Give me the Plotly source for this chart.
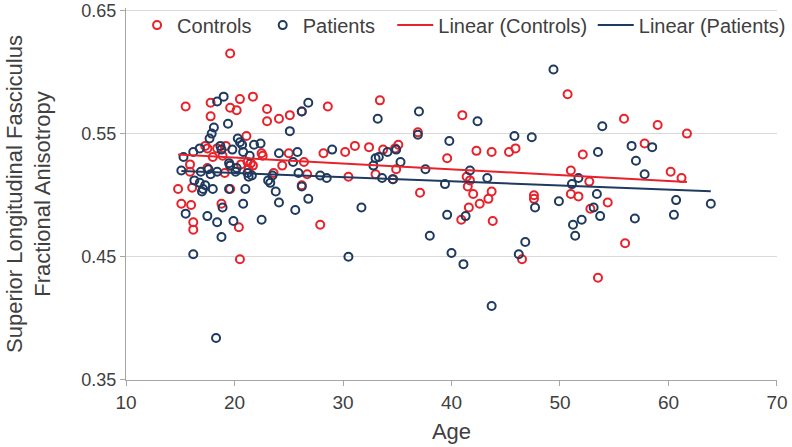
import numpy as np
import plotly.graph_objects as go

controls_age = [19.6, 15.5, 17.8, 17.8, 19.6, 20.2, 20.5, 21.7, 23.0, 23.0, 24.1, 25.1, 26.2, 28.6, 33.4,
                21.1, 17.3, 17.5, 18.4, 19.2, 22.5, 22.6, 21.2, 21.7, 21.5, 18.0, 18.9, 15.9, 15.9, 17.5,
                19.6, 19.1, 24.4, 25.0, 26.4, 26.7, 23.6, 28.2, 30.2, 31.1, 32.4, 33.7, 35.1, 34.8, 30.5,
                33.0, 34.6, 34.9, 14.8, 16.1, 15.1, 16.0, 16.2, 16.2, 19.6, 18.8, 20.4, 20.5, 27.9, 26.2,
                41.0, 36.9, 39.6, 42.3, 43.7, 45.3, 45.9, 37.1, 41.4, 41.7, 41.5, 42.0, 43.7, 43.4, 42.6,
                41.6, 40.9, 43.8, 47.6, 47.6, 46.5, 50.7, 55.9, 59.0, 61.7, 57.8, 52.1, 51.0, 52.7, 60.2,
                61.2, 51.0, 51.7, 52.8, 54.4, 56.0, 53.5, 20.6, 21.3]
controls_fa = [0.615, 0.572, 0.575, 0.564, 0.571, 0.569, 0.578, 0.580, 0.570, 0.560, 0.562, 0.565, 0.568, 0.572, 0.577,
               0.548, 0.540, 0.538, 0.538, 0.540, 0.534, 0.532, 0.527, 0.524, 0.526, 0.531, 0.532, 0.525, 0.519, 0.522,
               0.524, 0.518, 0.524, 0.534, 0.527, 0.517, 0.518, 0.534, 0.535, 0.540, 0.539, 0.537, 0.541, 0.538, 0.515,
               0.517, 0.513, 0.521, 0.505, 0.506, 0.493, 0.492, 0.478, 0.472, 0.505, 0.493, 0.474, 0.448, 0.476, 0.508,
               0.565, 0.551, 0.530, 0.536, 0.535, 0.535, 0.538, 0.502, 0.515, 0.512, 0.507, 0.501, 0.503, 0.497, 0.493,
               0.490, 0.480, 0.479, 0.500, 0.497, 0.448, 0.582, 0.562, 0.557, 0.550, 0.542, 0.533, 0.520, 0.511, 0.519,
               0.514, 0.501, 0.499, 0.489, 0.494, 0.461, 0.433, 0.525, 0.521]

patients_age = [19.0, 18.4, 19.4, 26.2, 26.8, 25.1, 33.2, 18.1, 17.9, 17.7, 20.3, 20.5, 20.7, 21.8, 22.4,
                15.3, 16.2, 16.8, 18.7, 18.8, 19.8, 20.8, 21.4, 24.1, 25.8, 29.0, 33.0, 33.3, 34.1, 34.9,
                35.3, 25.4, 15.1, 16.9, 17.6, 17.8, 18.4, 19.5, 19.6, 20.1, 20.2, 21.2, 21.3, 21.6, 23.5,
                25.9, 27.9, 28.5, 33.6, 32.8, 16.3, 16.8, 17.3, 17.1, 17.0, 18.0, 19.5, 21.0, 23.1, 23.3,
                23.8, 24.1, 26.2, 26.8, 15.5, 17.5, 18.9, 20.8, 18.4, 19.9, 22.5, 18.8, 25.6, 31.7, 16.2,
                30.5, 18.3, 37.0, 36.9, 42.4, 39.8, 45.8, 47.4, 37.6, 34.6, 39.4, 41.7, 43.3, 39.6, 41.3,
                38.0, 40.0, 41.1, 43.7, 46.2, 46.8, 47.7, 49.9, 49.4, 53.9, 53.5, 56.6, 58.5, 57.0, 57.8,
                51.7, 51.1, 53.4, 53.1, 53.7, 51.2, 52.0, 51.4, 56.9, 60.7, 60.5, 63.9]
patients_fa = [0.580, 0.576, 0.558, 0.568, 0.575, 0.552, 0.562, 0.555, 0.550, 0.546, 0.546, 0.543, 0.541, 0.541, 0.542,
               0.531, 0.535, 0.538, 0.540, 0.537, 0.537, 0.535, 0.532, 0.534, 0.535, 0.537, 0.530, 0.531, 0.535, 0.537,
               0.527, 0.527, 0.520, 0.519, 0.521, 0.517, 0.519, 0.526, 0.524, 0.519, 0.522, 0.518, 0.515, 0.516, 0.516,
               0.518, 0.516, 0.514, 0.514, 0.524, 0.512, 0.510, 0.508, 0.505, 0.503, 0.505, 0.505, 0.505, 0.512, 0.510,
               0.503, 0.494, 0.507, 0.497, 0.485, 0.483, 0.490, 0.493, 0.478, 0.479, 0.480, 0.466, 0.488, 0.490, 0.452,
               0.450, 0.384, 0.568, 0.549, 0.560, 0.544, 0.548, 0.547, 0.521, 0.513, 0.509, 0.520, 0.514, 0.484, 0.483,
               0.467, 0.453, 0.444, 0.410, 0.452, 0.462, 0.490, 0.495, 0.602, 0.556, 0.535, 0.540, 0.539, 0.528, 0.517,
               0.514, 0.509, 0.501, 0.490, 0.483, 0.476, 0.480, 0.467, 0.481, 0.496, 0.484, 0.493]

x_ticks = [10, 20, 30, 40, 50, 60, 70]
y_ticks = [0.35, 0.45, 0.55, 0.65]

RED = "#E8222A"
NAVY = "#1F3A5F"
FONT = "Liberation Sans, Arial, sans-serif"
TXT = "#404040"


def fit_line(x, y):
    x = np.asarray(x)
    slope, intercept = np.polyfit(x, np.asarray(y), 1)
    xs = np.array([x.min(), x.max()])
    return xs, slope * xs + intercept


fig = go.Figure()
fig.add_trace(go.Scatter(x=controls_age, y=controls_fa, mode="markers", name="Controls", legend="legend",
                         marker=dict(symbol="circle-open", size=8, color=RED, line=dict(width=2, color=RED))))
fig.add_trace(go.Scatter(x=patients_age, y=patients_fa, mode="markers", name="Patients", legend="legend2",
                         marker=dict(symbol="circle-open", size=8, color=NAVY, line=dict(width=2, color=NAVY))))
cx, cy = fit_line(controls_age, controls_fa)
px, py = fit_line(patients_age, patients_fa)
fig.add_trace(go.Scatter(x=cx, y=cy, mode="lines", name="Linear (Controls)", legend="legend3",
                         line=dict(color=RED, width=2)))
fig.add_trace(go.Scatter(x=px, y=py, mode="lines", name="Linear (Patients)", legend="legend4",
                         line=dict(color=NAVY, width=2)))

leg_common = dict(orientation="h", yanchor="middle", xanchor="left", y=0.954,
                  bgcolor="rgba(255,255,255,0)", font=dict(family=FONT, size=20, color=TXT))

fig.update_layout(
    width=792, height=447,
    margin=dict(l=126, r=15, t=8, b=67, autoexpand=False),
    plot_bgcolor="white", paper_bgcolor="white",
    font=dict(family=FONT, size=20, color=TXT),
    showlegend=True,
    legend=dict(x=0.017, itemwidth=30, **leg_common),
    legend2=dict(x=0.210, itemwidth=30, **leg_common),
    legend3=dict(x=0.409, itemwidth=36, **leg_common),
    legend4=dict(x=0.717, itemwidth=36, **leg_common),
    xaxis=dict(range=[10, 70.001], tickvals=x_ticks, showgrid=False, showline=True, linecolor="#A6A6A6",
               linewidth=1, ticks="outside", ticklen=5, tickcolor="#A6A6A6", zeroline=False, automargin=False,
               ticklabeloverflow="allow", tickfont=dict(size=19, color=TXT),
               title=dict(text="Age", font=dict(size=22, color=TXT), standoff=11)),
    yaxis=dict(range=[0.3499, 0.652], tickvals=y_ticks, tickformat=".2f", showgrid=True, gridcolor="#D9D9D9",
               showline=True, linecolor="#A6A6A6", linewidth=1, ticks="outside", ticklen=5, automargin=False,
               ticklabeloverflow="allow", tickcolor="#A6A6A6", zeroline=False, tickfont=dict(size=18, color=TXT),
               title=dict(text="Superior Longitudinal Fasciculus<br>Fractional Anisotropy",
                          font=dict(size=22, color=TXT), standoff=24)),
)

fig.write_html("out.html", config={"displayModeBar": False},
               post_script="document.body.style.margin='0';")
